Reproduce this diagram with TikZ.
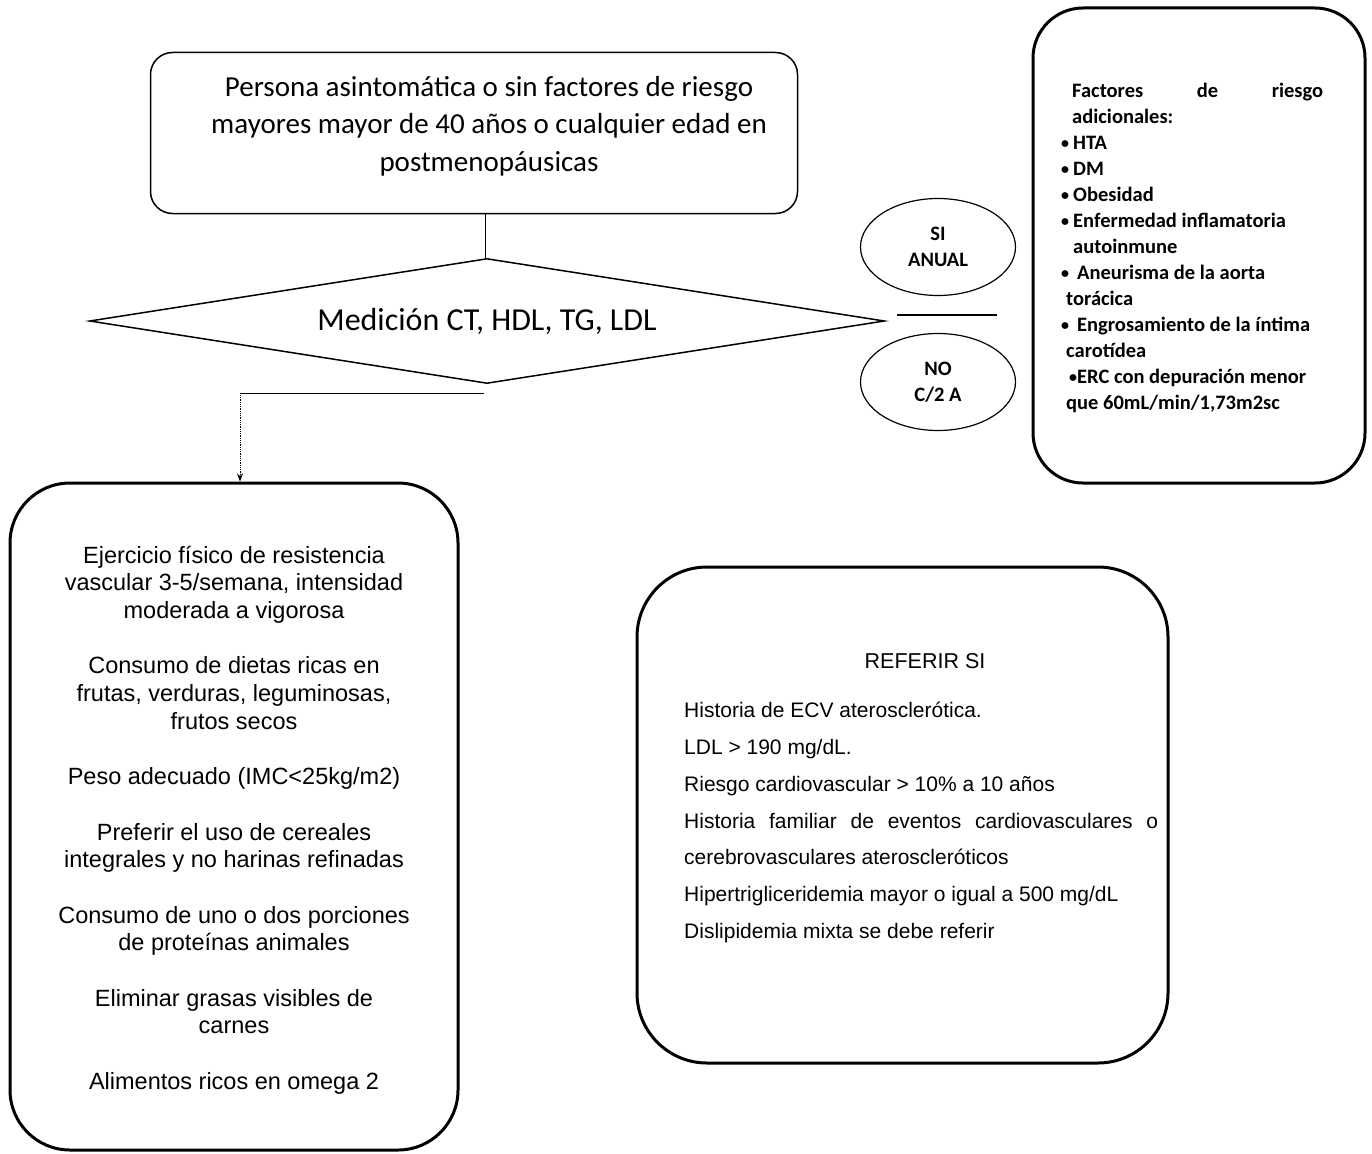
\documentclass[tikz,border=0pt]{standalone}
\usepackage{fontspec}
\setmainfont{Carlito}
\newfontfamily\arialfont{Liberation Sans}
\usetikzlibrary{calc,shapes.geometric,arrows.meta}

\newcommand{\punto}{\raisebox{1.5pt}{\fontsize{16}{16}\selectfont\textbullet}}
\newcommand{\vineta}{\makebox[12pt][l]{\punto}}

\begin{document}
\begin{tikzpicture}[x=1pt,y=-1pt,
  caja/.style={draw, rounded corners=22pt, line width=1.5pt, inner sep=0pt},
  cajagruesa/.style={draw, rounded corners=55pt, line width=3pt, inner sep=0pt},
  ovalo/.style={draw, ellipse, line width=1.2pt, minimum width=155pt,
    minimum height=97pt, align=center, font=\fontsize{20.5}{26}\selectfont\bfseries}]
  \useasboundingbox (0,0) rectangle (1372,1153);

  %% Top box and decision
  \node[caja, minimum width=647pt, minimum height=161pt] (PERSONA) at (474,133) {};
  \node[align=center, font=\fontsize{29}{37.5}\selectfont] (PERSONAtxt) at (489,126)
  {Persona asintomática o sin factores de riesgo\\
   mayores mayor de 40 años o cualquier edad en\\
   postmenopáusicas};
  \node[draw, diamond, aspect=6.36, line width=1.5pt, minimum width=795pt, minimum height=125pt,
    inner sep=0pt, font=\fontsize{32}{36}\selectfont] (MEDICION) at (487,321)
  {Medición CT, HDL, TG, LDL};
  \draw[line width=0.8pt] (PERSONA.south -| 485,0) -- (MEDICION.north -| 485,0);

  %% Frequency
  \node[ovalo] (SI) at (938,247) {SI\\ANUAL};
  \node[ovalo] (NO) at (938,382) {NO\\C/2 A};
  \coordinate (H1) at ($(MEDICION.east)+(12,-6)$);
  \coordinate (H2) at ($(MEDICION.east)+(112,-6)$);
  \draw[line width=1.2pt] (H1) -- (H2);

  %% Additional risk factors
  \node[cajagruesa, rounded corners=50pt, minimum width=332pt, minimum height=475pt] (CAJAFR) at (1199,245.5) {};
  \node[anchor=north west, align=left, inner sep=0pt,
    font=\fontsize{20.5}{26}\selectfont\bfseries] (FACTORES) at (1061,83)
  {\hspace*{11pt}\hbox to 251pt{Factores\hfill de\hfill riesgo}\\
   \hspace*{11pt}adicionales:\\
   \vineta HTA\\
   \vineta DM\\
   \vineta Obesidad\\
   \vineta Enfermedad inflamatoria\\
   \hspace*{12pt}autoinmune\\
   \vineta\hspace{4pt}Aneurisma de la aorta\\
   \hspace*{5pt}torácica\\
   \vineta\hspace{4pt}Engrosamiento de la íntima\\
   \hspace*{5pt}carotídea\\
   \hspace*{8pt}\punto ERC con depuración menor\\
   \hspace*{5pt}que 60mL/min/1,73m2sc};

  %% Lifestyle box
  \node[cajagruesa, rounded corners=60pt, minimum width=448pt, minimum height=667pt] (ESTILO) at (234,816.5) {};
  \node[align=center, font=\arialfont\fontsize{23.5}{27.7}\selectfont] (ESTILOtxt) at (234,820)
  {Ejercicio físico de resistencia\\
   vascular 3-5/semana, intensidad\\
   moderada a vigorosa\\[27.7pt]
   Consumo de dietas ricas en\\
   frutas, verduras, leguminosas,\\
   frutos secos\\[27.7pt]
   Peso adecuado (IMC<25kg/m2)\\[27.7pt]
   Preferir el uso de cereales\\
   integrales y no harinas refinadas\\[27.7pt]
   Consumo de uno o dos porciones\\
   de proteínas animales\\[27.7pt]
   Eliminar grasas visibles de\\
   carnes\\[27.7pt]
   Alimentos ricos en omega 2};

  %% Arrow to lifestyle box
  \coordinate (B1) at ($(MEDICION.south)+(-3,9)$);
  \coordinate (B3) at ($(ESTILO.north)+(6,0)$);
  \coordinate (B2) at (B1 -| B3);
  \draw[line width=1.2pt] (B1) -- (B2);
  \draw[densely dotted, line width=0.8pt, -{Stealth[length=8pt,width=6pt]}] (B2) -- (B3);

  %% Referral box
  \node[cajagruesa, rounded corners=70pt, minimum width=531pt, minimum height=496pt] (REFBOX) at (902.5,815) {};
  \node[font=\arialfont\fontsize{21.5}{24}\selectfont] (REFERIR) at (925,661) {REFERIR SI};
  \node[anchor=north west, align=left, inner sep=0pt,
    font=\arialfont\fontsize{21}{36.8}\selectfont] (CRITERIOS) at (684,702)
  {Historia de ECV aterosclerótica.\\
   LDL > 190 mg/dL.\\
   Riesgo cardiovascular > 10\% a 10 años\\
   \hbox to 474pt{Historia\hfill familiar\hfill de\hfill eventos\hfill cardiovasculares\hfill o}\\
   cerebrovasculares ateroscleróticos\\
   Hipertrigliceridemia mayor o igual a 500 mg/dL\\
   Dislipidemia mixta se debe referir};
\end{tikzpicture}
\end{document}
